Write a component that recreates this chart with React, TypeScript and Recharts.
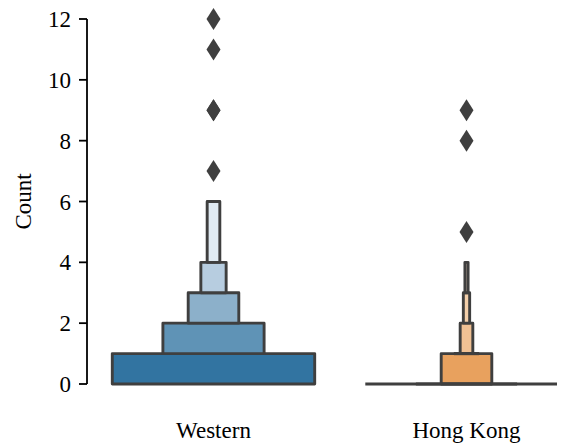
import React from 'react';
import {
  ComposedChart,
  XAxis,
  YAxis,
  ReferenceArea,
  ReferenceLine,
  Scatter,
} from 'recharts';

const categories = ['Western', 'Hong Kong'];

// letter-value boxes, outermost level first
const westernLow = [0, 1, 2, 3, 4];
const westernHigh = [1, 2, 3, 4, 6];
const westernColors = ['#3274a1', '#5f93b6', '#8cb0ca', '#b7cde0', '#e0eaf2'];

const hkLow = [0, 0, 0, 1, 1, 2, 3];
const hkHigh = [0, 0, 1, 1, 2, 3, 4];
const hkColors = ['#e1812c', '#e48f44', '#e8a15e', '#ebb17b', '#f0c194', '#f3cfaa', '#f6dec6'];

const westernOutliers = [7, 9, 9, 11, 12];
const hkOutliers = [5, 8, 9];

const yTicks = [0, 2, 4, 6, 8, 10, 12];

const FONT = '"Liberation Serif", "Times New Roman", serif';
const EDGE = '#3f3f3f';
const EDGE_W = 2.9;

const outlierData = [
  ...westernOutliers.map((v) => ({ x: 0, y: v })),
  ...hkOutliers.map((v) => ({ x: 1, y: v })),
];

const groups = [
  { idx: 0, low: westernLow, high: westernHigh, colors: westernColors },
  { idx: 1, low: hkLow, high: hkHigh, colors: hkColors },
];

const Diamond = (props: any) => {
  const { cx, cy } = props;
  if (cx == null || cy == null) return null;
  const w = 7;
  const h = 11;
  return (
    <polygon
      points={`${cx},${cy - h} ${cx + w},${cy} ${cx},${cy + h} ${cx - w},${cy}`}
      fill={EDGE}
    />
  );
};

const XTick = (props: any) => {
  const { x, y, payload } = props;
  return (
    <text x={x} y={y} dy={54} textAnchor="middle" fontSize={23} fontFamily={FONT} fill="#000">
      {categories[payload.value]}
    </text>
  );
};

const YLabel = (props: any) => {
  const vb = props.viewBox || {};
  const cy = (vb.y ?? 11) + (vb.height ?? 365) / 2;
  const cx = 15;
  return (
    <text
      x={cx}
      y={cy}
      transform={`rotate(-90, ${cx}, ${cy})`}
      textAnchor="middle"
      dominantBaseline="central"
      fontSize={23}
      fontFamily={FONT}
      fill="#000"
    >
      Count
    </text>
  );
};

export default function App() {
  const boxes: React.ReactNode[] = [];
  groups.forEach((g) => {
    g.low.forEach((lo, i) => {
      const hi = g.high[i];
      const half = (0.8 * Math.pow(2, -i)) / 2;
      const x1 = g.idx - half;
      const x2 = g.idx + half;
      if (hi === lo) {
        boxes.push(
          <ReferenceLine
            key={`l-${g.idx}-${i}`}
            segment={[
              { x: x1, y: lo },
              { x: x2, y: lo },
            ]}
            stroke={EDGE}
            strokeWidth={3.2}
            ifOverflow="visible"
          />
        );
      } else {
        boxes.push(
          <ReferenceArea
            key={`b-${g.idx}-${i}`}
            x1={x1}
            x2={x2}
            y1={lo}
            y2={hi}
            fill={g.colors[i]}
            fillOpacity={1}
            stroke={EDGE}
            strokeWidth={EDGE_W}
            strokeLinejoin="round"
            ifOverflow="visible"
          />
        );
      }
    });
  });

  return (
    <div style={{ width: 557, height: 435, overflow: 'hidden' }}>
      <ComposedChart
        width={585}
        height={435}
        margin={{ top: 11, right: 0, bottom: 0, left: 0 }}
      >
        <XAxis
          type="number"
          dataKey="x"
          domain={[-0.5, 1.5]}
          ticks={[0, 1]}
          axisLine={false}
          tickLine={false}
          tickSize={0}
          tickMargin={0}
          height={59}
          tick={<XTick />}
          interval={0}
        />
        <YAxis
          type="number"
          dataKey="y"
          domain={[0, 12]}
          ticks={yTicks}
          interval={0}
          width={79}
          tickSize={8}
          tickMargin={8}
          axisLine={{ stroke: '#000', strokeWidth: 1.8 }}
          tickLine={{ stroke: '#000', strokeWidth: 1.8 }}
          tick={{ fontSize: 23, fontFamily: FONT, fill: '#000' }}
          label={<YLabel />}
        />
        {boxes}
        <Scatter
          data={outlierData}
          dataKey="y"
          shape={<Diamond />}
          isAnimationActive={false}
        />
      </ComposedChart>
    </div>
  );
}
